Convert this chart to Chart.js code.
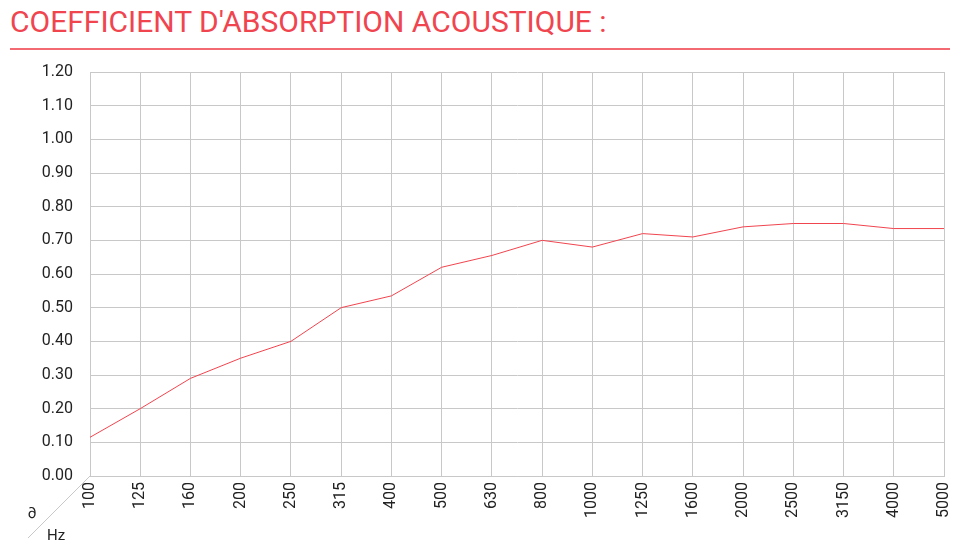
<!DOCTYPE html>
<html><head><meta charset="utf-8">
<script src="https://cdn.jsdelivr.net/npm/chart.js@4"></script>
<style>
body{margin:0;background:#fff;width:980px;height:550px;position:relative;overflow:hidden;font-family:Roboto,sans-serif}
#t{position:absolute;left:10px;top:4px;font-size:30px;color:#f0454f;letter-spacing:0}
#l{position:absolute;left:10px;top:48px;width:940px;height:2px;background:#f0454f;opacity:0.8}
#c{position:absolute;left:0;top:0}
</style></head><body>
<div id="t">COEFFICIENT D'ABSORPTION ACOUSTIQUE :</div>
<div id="l"></div>
<canvas id="c" width="980" height="550"></canvas>
<script>
const frequencies=["100","125","160","200","250","315","400","500","630","800","1000","1250","1600","2000","2500","3150","4000","5000"];
const absorption=[0.115,0.20,0.29,0.35,0.40,0.50,0.535,0.62,0.655,0.70,0.68,0.72,0.71,0.74,0.75,0.75,0.735,0.735];
const corner={id:'corner',afterDraw(ch){const a=ch.chartArea,x=ch.ctx;x.save();x.strokeStyle='#c8c8c8';x.lineWidth=1;x.beginPath();x.moveTo(a.left,a.bottom);x.lineTo(a.left-62,a.bottom+62);x.stroke();x.fillStyle='#222';x.font='15px Roboto';x.textAlign='center';x.textBaseline='middle';x.fillText('∂',32,514);x.fillText('Hz',56,536);x.restore();}};
new Chart(document.getElementById('c'),{type:'line',
data:{labels:frequencies,datasets:[{data:absorption,borderColor:'#f0454f',borderWidth:1,pointRadius:0,tension:0,fill:false}]},
options:{responsive:false,animation:false,layout:{padding:{left:0,top:72,right:36,bottom:0}},
plugins:{legend:{display:false},tooltip:{enabled:false}},
scales:{
x:{offset:false,grid:{color:'#c8c8c8',drawTicks:false},border:{color:'#c8c8c8'},afterFit(s){s.height=74;},
ticks:{color:'#222',font:{family:'Roboto',size:16},minRotation:90,maxRotation:90,padding:6,autoSkip:false}},
y:{min:0,max:1.2,grid:{color:'#c8c8c8',drawTicks:false},border:{color:'#c8c8c8'},afterFit(s){s.width=90;},
ticks:{stepSize:0.1,color:'#222',font:{family:'Roboto',size:16},padding:17,callback:v=>v.toFixed(2)}}}},
plugins:[corner]});
</script></body></html>
